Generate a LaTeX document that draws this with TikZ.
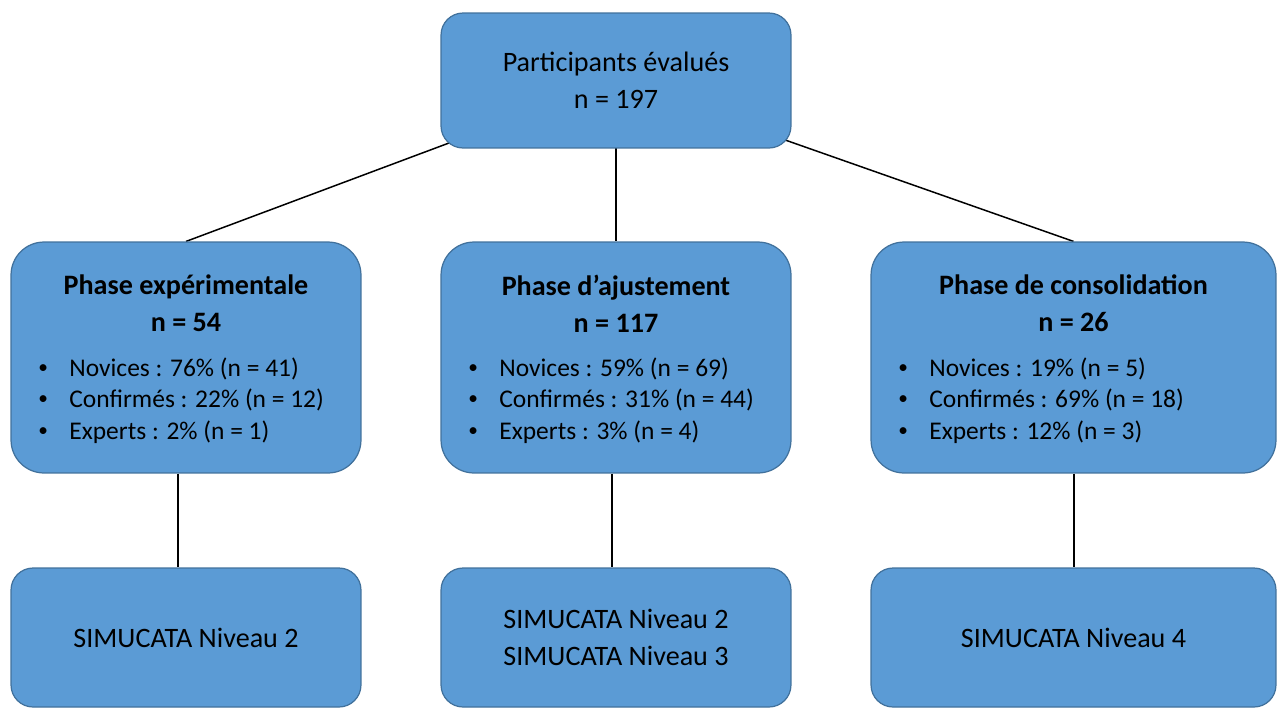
\documentclass[tikz,border=0pt]{standalone}
\usepackage{fontspec}
\setmainfont{Carlito}
\usetikzlibrary{backgrounds}

\definecolor{boxfill}{HTML}{5B9BD5}
\definecolor{boxline}{HTML}{41719C}

\newcommand{\puce}{\makebox[0.62cm][l]{\raisebox{0.12em}{\fontsize{11}{11}\selectfont\textbullet}}}

\tikzset{
    box/.style={draw=boxline, fill=boxfill, line width=0.7pt, rounded corners=0.44cm,
        minimum width=7cm, align=center, inner sep=0pt},
    phasebox/.style={box, rounded corners=0.66cm, minimum height=4.62cm},
    simbox/.style={box, minimum height=2.78cm},
    titletext/.style={align=center, inner sep=0pt, font=\fontsize{16}{21}\selectfont\bfseries},
    listtext/.style={align=left, inner sep=0pt, anchor=west, font=\fontsize{14.5}{17.9}\selectfont},
    link/.style={draw=black, line width=0.85pt}
}

\begin{document}
\begin{tikzpicture}[x=0.02cm,y=-0.02cm,font=\fontsize{16}{21}\selectfont]
    \useasboundingbox (0,0) rectangle (1277,708);

    \node (eval) [box, minimum height=2.7cm] at (616,80.5) {Participants évalués\\n = 197};

    % phases
    \node (exp) [phasebox] at (186,357.5) {};
    \node (exp_title) [titletext] at (186,303.5) {Phase expérimentale\\n = 54};
    \node (exp_list) [listtext] at (38,400.5) {\puce Novices : 76\% (n = 41)\\\puce Confirmés : 22\% (n = 12)\\\puce Experts : 2\% (n = 1)};

    \node (adj) [phasebox] at (616,357.5) {};
    \node (adj_title) [titletext] at (616,303.5) {Phase d’ajustement\\n = 117};
    \node (adj_list) [listtext] at (468,400.5) {\puce Novices : 59\% (n = 69)\\\puce Confirmés : 31\% (n = 44)\\\puce Experts : 3\% (n = 4)};

    \node (cons) [phasebox, minimum width=8.1cm] at (1073.5,357.5) {};
    \node (cons_title) [titletext] at (1073.5,303.5) {Phase de consolidation\\n = 26};
    \node (cons_list) [listtext] at (898,400.5) {\puce Novices : 19\% (n = 5)\\\puce Confirmés : 69\% (n = 18)\\\puce Experts : 12\% (n = 3)};

    % simucata levels
    \node (exp_sim) [simbox] at (186,637.5) {SIMUCATA Niveau 2};
    \node (adj_sim) [simbox] at (616,637.5) {SIMUCATA Niveau 2\\SIMUCATA Niveau 3};
    \node (cons_sim) [simbox, minimum width=8.1cm] at (1073.5,637.5) {SIMUCATA Niveau 4};

    \begin{scope}[on background layer]
        \draw[link] (eval.center) -- (exp.north);
        \draw[link] (eval.center) -- (adj.north);
        \draw[link] (eval.center) -- (cons.north);
        \draw[link] ([xshift=-0.16cm]exp.south) -- ([xshift=-0.16cm]exp_sim.north);
        \draw[link] ([xshift=-0.08cm]adj.south) -- ([xshift=-0.08cm]adj_sim.north);
        \draw[link] ([xshift=0.01cm]cons.south) -- ([xshift=0.01cm]cons_sim.north);
    \end{scope}
\end{tikzpicture}
\end{document}
